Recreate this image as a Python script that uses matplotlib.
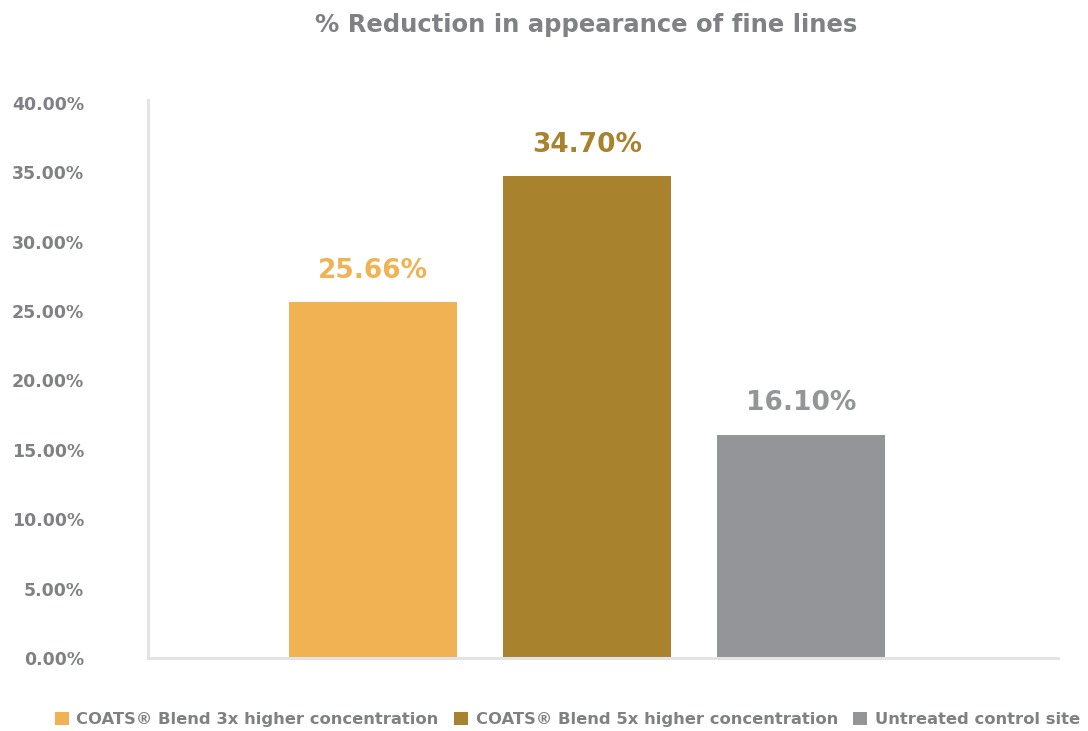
import matplotlib
matplotlib.use("Agg")
import matplotlib.pyplot as plt
from matplotlib.patches import Patch

plt.rcParams['font.family'] = ['DejaVu Sans']

categories = ["COATS® Blend 3x higher concentration",
              "COATS® Blend 5x higher concentration",
              "Untreated control site"]
values = [25.66, 34.70, 16.10]
value_labels = ["25.66%", "34.70%", "16.10%"]
colors = ["#F0B252", "#A8822C", "#939598"]
yticks = [0, 5, 10, 15, 20, 25, 30, 35, 40]
ytick_labels = ["0.00%", "5.00%", "10.00%", "15.00%", "20.00%",
                "25.00%", "30.00%", "35.00%", "40.00%"]
title = "% Reduction in appearance of fine lines"

text_gray = "#808184"
axis_gray = "#E3E3E3"

fig = plt.figure(figsize=(10.88, 7.31), dpi=100)
ax = fig.add_axes([0.136, 0.0999, 0.8364, 0.7633])

x = list(range(len(values)))
bars = ax.bar(x, values, width=0.785, color=colors, zorder=2)

for xi, v, lab, c in zip(x, values, value_labels, colors):
    ax.text(xi, v + 1.3, lab, ha="center", va="bottom",
            fontsize=19, fontweight="bold", color=c)

ax.set_xlim(-1.051, 3.201)
ax.set_ylim(0, 40.2)
ax.set_yticks(yticks)
ax.set_yticklabels(ytick_labels, fontsize=12.5, fontweight="bold", color=text_gray)
ax.set_xticks([])
ax.tick_params(axis="y", length=0, pad=46)

for side in ("top", "right"):
    ax.spines[side].set_visible(False)
for side in ("left", "bottom"):
    ax.spines[side].set_color(axis_gray)
    ax.spines[side].set_linewidth(2.2)

fig.text(0.539, 0.966, title, ha="center", va="center",
         fontsize=17.5, fontweight="bold", color=text_gray)

handles = [Patch(facecolor=c, edgecolor="none") for c in colors]
leg = fig.legend(handles, categories, loc="center", bbox_to_anchor=(0.5216, 0.016),
                 ncol=3, frameon=False, handlelength=0.85, handleheight=0.85,
                 handletextpad=0.45, columnspacing=0.95,
                 prop={"size": 11.8, "weight": "bold"})
for t in leg.get_texts():
    t.set_color(text_gray)

fig.savefig("out.png", dpi=100, facecolor="white")
